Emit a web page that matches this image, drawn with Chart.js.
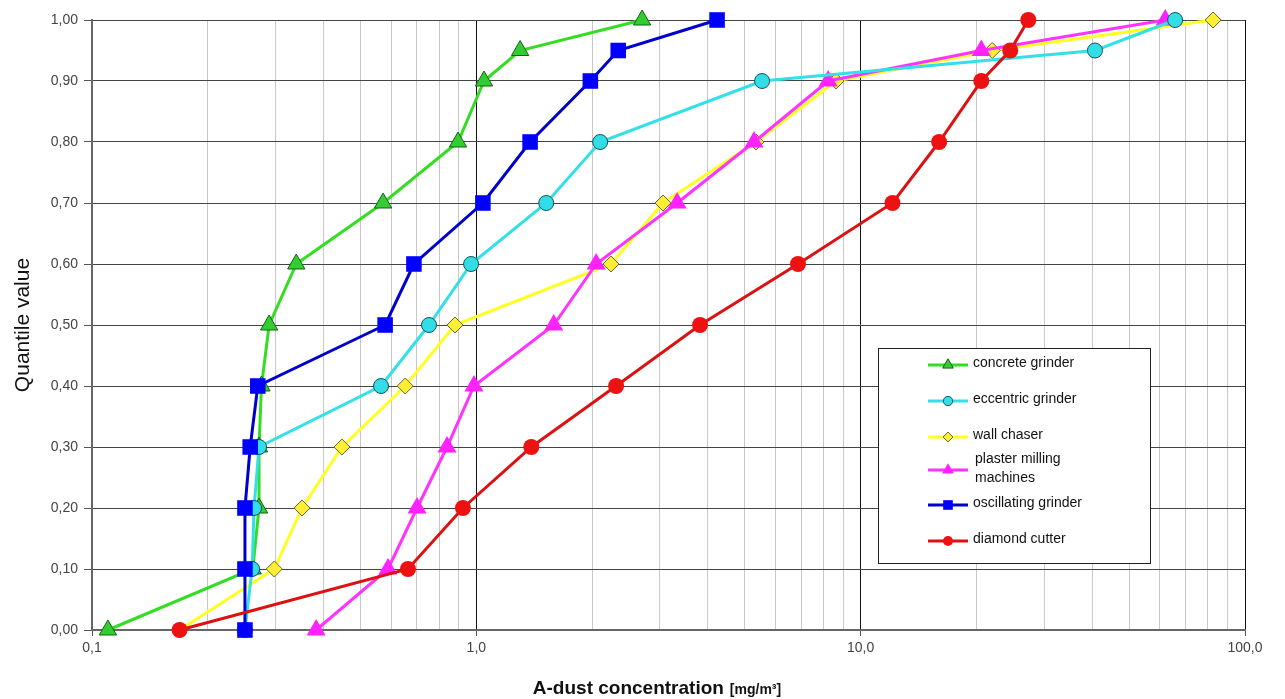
<!DOCTYPE html>
<html>
<head>
<meta charset="utf-8">
<script src="https://cdn.jsdelivr.net/npm/chart.js@4/dist/chart.umd.min.js"></script>
<style>
  body { margin: 0; background: #fff; }
  canvas { display: block; }
</style>
</head>
<body>
<canvas id="myChart" width="1285" height="699"></canvas>
<script>
// quantile levels (y) and concentrations in mg/m3 (x) per machine
const quantiles = [0, 0.1, 0.2, 0.3, 0.4, 0.5, 0.6, 0.7, 0.8, 0.9, 0.95, 1.0];
const concreteGrinder = [0.110, 0.262, 0.272, 0.272, 0.276, 0.289, 0.340, 0.572, 0.896, 1.047, 1.30, 2.70];
const eccentricGrinder = [0.250, 0.261, 0.264, 0.272, 0.565, 0.753, 0.969, 1.52, 2.10, 5.54, 40.7, 65.8];
const wallChaser = [0.169, 0.298, 0.352, 0.447, 0.653, 0.880, 2.24, 3.06, 5.34, 8.63, 22.0, 82.6];
const plasterMilling = [0.383, 0.589, 0.701, 0.839, 0.986, 1.59, 2.05, 3.33, 5.28, 8.23, 20.6, 62.0];
const oscillatingGrinder = [0.250, 0.250, 0.250, 0.258, 0.270, 0.579, 0.688, 1.04, 1.38, 1.98, 2.34, 4.23];
const diamondCutter = [0.169, 0.664, 0.923, 1.39, 2.31, 3.82, 6.87, 12.1, 16.0, 20.6, 24.5, 27.3];
const seriesNames = ['concrete grinder', 'eccentric grinder', 'wall chaser', 'plaster milling machines', 'oscillating grinder', 'diamond cutter'];
const xTickValues = [0.1, 0.2, 0.3, 0.4, 0.5, 0.6, 0.7, 0.8, 0.9, 1, 2, 3, 4, 5, 6, 7, 8, 9, 10, 20, 30, 40, 50, 60, 70, 80, 90, 100];

function toPoints(values) {
    return values.map((v, i) => ({ x: v, y: quantiles[i] }));
}

function isDecade(v) {
    let l = Math.log10(v);
    return Math.abs(l - Math.round(l)) < 1e-6;
}

let styles = [
    { line: '#33dd22', fill: '#33cc33', border: '#116611', shape: 'triangle', r: 10, bw: 1, order: 5 },
    { line: '#33e0e8', fill: '#33dde8', border: '#115555', shape: 'circle', r: 7.5, bw: 1, order: 2 },
    { line: '#ffff22', fill: '#ffee33', border: '#666633', shape: 'rectRot', r: 8, bw: 1, order: 4 },
    { line: '#ff33ff', fill: '#ff22ff', border: '#ff22ff', shape: 'triangle', r: 11, bw: 0, order: 3 },
    { line: '#0000cc', fill: '#0000ff', border: '#0000ff', shape: 'rect', r: 11, bw: 0, order: 1 },
    { line: '#dd1111', fill: '#ee1111', border: '#ee1111', shape: 'circle', r: 8, bw: 0, order: 0 }
];
let allValues = [concreteGrinder, eccentricGrinder, wallChaser, plasterMilling, oscillatingGrinder, diamondCutter];

let datasets = allValues.map((vals, i) => ({
    label: seriesNames[i],
    data: toPoints(vals),
    borderColor: styles[i].line,
    borderWidth: 3,
    backgroundColor: styles[i].fill,
    pointBackgroundColor: styles[i].fill,
    pointBorderColor: styles[i].border,
    pointBorderWidth: styles[i].bw,
    pointStyle: styles[i].shape,
    pointRadius: styles[i].r,
    tension: 0,
    clip: false,
    order: styles[i].order
}));

function drawMarker(ctx, shape, x, y, r) {
    ctx.beginPath();
    if (shape === 'circle') {
        ctx.arc(x, y, r, 0, Math.PI * 2);
    } else if (shape === 'triangle') {
        let a = -Math.PI / 2;
        ctx.moveTo(x + Math.cos(a) * r, y + Math.sin(a) * r);
        a += 2 * Math.PI / 3;
        ctx.lineTo(x + Math.cos(a) * r, y + Math.sin(a) * r);
        a += 2 * Math.PI / 3;
        ctx.lineTo(x + Math.cos(a) * r, y + Math.sin(a) * r);
        ctx.closePath();
    } else if (shape === 'rect') {
        let s = r * Math.SQRT1_2;
        ctx.rect(x - s, y - s, 2 * s, 2 * s);
    } else {
        ctx.moveTo(x, y - r);
        ctx.lineTo(x + r, y);
        ctx.lineTo(x, y + r);
        ctx.lineTo(x - r, y);
        ctx.closePath();
    }
}

const extras = {
    id: 'extras',
    afterDraw(chart) {
        let ctx = chart.ctx;
        ctx.save();

        // legend box
        ctx.fillStyle = '#fff';
        ctx.fillRect(878, 348, 272, 215);
        ctx.strokeStyle = '#222';
        ctx.lineWidth = 1;
        ctx.strokeRect(878.5, 348.5, 272, 215);

        let rows = [365, 401, 437, 470, 505, 541];
        ctx.font = '14px "Liberation Sans", Arial, sans-serif';
        ctx.textBaseline = 'middle';
        ctx.textAlign = 'left';
        datasets.forEach((ds, i) => {
            let y = rows[i];
            ctx.strokeStyle = ds.borderColor;
            ctx.lineWidth = 3;
            ctx.beginPath();
            ctx.moveTo(928, y);
            ctx.lineTo(968, y);
            ctx.stroke();
            drawMarker(ctx, ds.pointStyle, 948, y, ds.pointRadius * 0.62);
            ctx.fillStyle = ds.pointBackgroundColor;
            ctx.fill();
            if (ds.pointBorderWidth) {
                ctx.strokeStyle = ds.pointBorderColor;
                ctx.lineWidth = 1;
                ctx.stroke();
            }
            ctx.fillStyle = '#111';
            if (i === 3) {
                ctx.fillText('plaster milling', 975, y - 11);
                ctx.fillText('machines', 975, y + 8);
            } else {
                ctx.fillText(ds.label, 973, y - 2);
            }
        });

        // axis titles
        ctx.fillStyle = '#111';
        ctx.save();
        ctx.translate(23, 325);
        ctx.rotate(-Math.PI / 2);
        ctx.textAlign = 'center';
        ctx.textBaseline = 'middle';
        ctx.font = '21px "Liberation Sans", Arial, sans-serif';
        ctx.fillText('Quantile value', 0, 0);
        ctx.restore();

        ctx.textBaseline = 'alphabetic';
        ctx.textAlign = 'left';
        ctx.font = 'bold 19px "Liberation Sans", Arial, sans-serif';
        let main = 'A-dust concentration';
        let unit = '[mg/m³]';
        let w1 = ctx.measureText(main).width;
        ctx.font = 'bold 14px "Liberation Sans", Arial, sans-serif';
        let w2 = ctx.measureText(unit).width;
        let start = 657 - (w1 + 6 + w2) / 2;
        ctx.font = 'bold 19px "Liberation Sans", Arial, sans-serif';
        ctx.fillText(main, start, 694);
        ctx.font = 'bold 14px "Liberation Sans", Arial, sans-serif';
        ctx.fillText(unit, start + w1 + 6, 694);
        ctx.restore();
    }
};

let ctx = document.getElementById('myChart').getContext('2d');
let myChart = new Chart(ctx, {
    type: 'line',
    data: { datasets: datasets },
    options: {
        responsive: false,
        animation: false,
        layout: { padding: { left: 0, right: 40, top: 20, bottom: 0 } },
        plugins: { legend: { display: false }, tooltip: { enabled: false } },
        scales: {
            x: {
                type: 'logarithmic',
                min: 0.1,
                max: 100,
                afterBuildTicks: function(scale) {
                    scale.ticks = xTickValues.map(v => ({ value: v, major: isDecade(v) }));
                },
                afterFit: function(scale) { scale.height = 69; },
                ticks: {
                    autoSkip: false,
                    maxRotation: 0,
                    padding: 4,
                    color: '#444',
                    font: { family: '"Liberation Sans", Arial, sans-serif', size: 14 },
                    callback: function(value) {
                        return isDecade(value) ? value.toFixed(1).replace('.', ',') : '';
                    }
                },
                grid: {
                    color: function(c) {
                        return isDecade(c.tick.value) ? '#111' : '#c8c8c8';
                    },
                    tickColor: function(c) {
                        return isDecade(c.tick.value) ? '#555' : 'rgba(0,0,0,0)';
                    },
                    tickLength: 6,
                    lineWidth: 1
                },
                border: { color: '#666', width: 2 }
            },
            y: {
                min: 0,
                max: 1,
                afterFit: function(scale) { scale.width = 92; },
                ticks: {
                    stepSize: 0.1,
                    padding: 6,
                    color: '#444',
                    font: { family: '"Liberation Sans", Arial, sans-serif', size: 14 },
                    callback: function(value) {
                        return value.toFixed(2).replace('.', ',');
                    }
                },
                grid: {
                    color: '#444',
                    tickColor: '#555',
                    tickLength: 8,
                    lineWidth: 1
                },
                border: { color: '#666', width: 2 }
            }
        }
    },
    plugins: [extras]
});
</script>
</body>
</html>
